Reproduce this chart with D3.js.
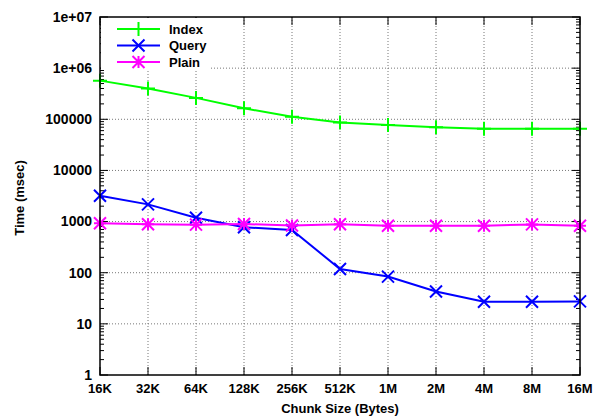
<!DOCTYPE html>
<html>
<head>
<meta charset="utf-8">
<script src="https://cdn.jsdelivr.net/npm/d3@7"></script>
<style>
  body { margin: 0; background: #fff; }
  svg { display: block; }
  text { font-family: "Liberation Sans", Arial, sans-serif; font-weight: bold; font-size: 13px; fill: #000; }
  text.ylab { font-size: 14px; }
</style>
</head>
<body>
<svg id="chart" width="594" height="417"></svg>
<script>
// chunk sizes on the x axis
var chunks = ['16K', '32K', '64K', '128K', '256K', '512K', '1M', '2M', '4M', '8M', '16M'];

// timings in msec
var indexTimes = [570000, 400000, 262000, 164000, 112000, 87000, 77000, 70000, 65000, 65000, 65000];
var queryTimes = [3200, 2170, 1190, 775, 685, 118, 84, 43, 27, 27, 27.5];
var plainTimes = [925, 885, 870, 895, 835, 885, 830, 830, 830, 880, 830];

var yTicks = [1, 10, 100, 1000, 10000, 100000, 1e6, 1e7];
var yTickLabels = ['1', '10', '100', '1000', '10000', '100000', '1e+06', '1e+07'];

var series = [
    {name: 'Index', values: indexTimes, color: '#00ff00', marker: 'plus'},
    {name: 'Query', values: queryTimes, color: '#0000ff', marker: 'cross'},
    {name: 'Plain', values: plainTimes, color: '#ff00ff', marker: 'star'}
];

var svg = d3.select('#chart'),
    margin = {left: 100, right: 14, top: 17, bottom: 42},
    width = 594 - margin.left - margin.right,
    height = 417 - margin.top - margin.bottom;

var x = d3.scalePoint().domain(chunks).range([0, width]);
var y = d3.scaleLog().domain([1, 1e7]).range([height, 0]);

var g = svg.append('g').attr('transform', `translate(${margin.left},${margin.top})`);

// grid lines
var grid = g.append('g').attr('class', 'grid');
grid.selectAll('line.gx')
    .data(chunks.slice(1, -1))
    .enter().append('line')
    .attr('x1', d => x(d)).attr('x2', d => x(d))
    .attr('y1', 0).attr('y2', height);
grid.selectAll('line.gy')
    .data(yTicks.slice(1, -1))
    .enter().append('line')
    .attr('x1', 0).attr('x2', width)
    .attr('y1', d => y(d)).attr('y2', d => y(d));
grid.selectAll('line')
    .attr('stroke', '#777').attr('stroke-width', 1).attr('stroke-dasharray', '1,2');

// minor ticks on log scale (left and right)
var minors = [];
for (var e = 0; e < 7; e++) {
    for (var m = 2; m < 10; m++) minors.push(m * Math.pow(10, e));
}
var ticks = g.append('g').attr('stroke', '#000').attr('stroke-width', 1);
minors.forEach(function (v) {
    ticks.append('line').attr('x1', 0).attr('x2', 4).attr('y1', y(v)).attr('y2', y(v));
    ticks.append('line').attr('x1', width).attr('x2', width - 4).attr('y1', y(v)).attr('y2', y(v));
});
yTicks.forEach(function (v) {
    ticks.append('line').attr('x1', 0).attr('x2', 8).attr('y1', y(v)).attr('y2', y(v));
    ticks.append('line').attr('x1', width).attr('x2', width - 8).attr('y1', y(v)).attr('y2', y(v));
});
chunks.forEach(function (c) {
    ticks.append('line').attr('x1', x(c)).attr('x2', x(c)).attr('y1', height).attr('y2', height - 8);
    ticks.append('line').attr('x1', x(c)).attr('x2', x(c)).attr('y1', 0).attr('y2', 8);
});

// tick labels
g.selectAll('text.ylab')
    .data(yTicks)
    .enter().append('text')
    .attr('class', 'ylab')
    .attr('x', -8)
    .attr('y', d => y(d))
    .attr('dy', '0.35em')
    .attr('text-anchor', 'end')
    .text((d, i) => yTickLabels[i]);

g.selectAll('text.xlab')
    .data(chunks)
    .enter().append('text')
    .attr('x', d => x(d))
    .attr('y', height + 18)
    .attr('text-anchor', 'middle')
    .text(d => d);

// axis titles
svg.append('text')
    .attr('x', margin.left + width / 2)
    .attr('y', 413)
    .attr('text-anchor', 'middle')
    .text('Chunk Size (Bytes)');
svg.append('text')
    .attr('transform', `translate(24,${margin.top + height / 2 + 2}) rotate(-90)`)
    .attr('text-anchor', 'middle')
    .text('Time (msec)');

// marker shapes
function markerPath(type, s) {
    if (type == 'plus') return `M${-s},0H${s}M0,${-s}V${s}`;
    if (type == 'cross') return `M${-s},${-s}L${s},${s}M${-s},${s}L${s},${-s}`;
    return `M${-s},0H${s}M0,${-s}V${s}M${-s},${-s}L${s},${s}M${-s},${s}L${s},${-s}`;
}

// legend background
g.append('rect')
    .attr('x', 1).attr('y', 1)
    .attr('width', 110).attr('height', 52)
    .attr('fill', '#fff');

var line = d3.line()
    .x((d, i) => x(chunks[i]))
    .y(d => y(d));

series.forEach(function (s) {
    g.append('path')
        .attr('d', line(s.values))
        .attr('fill', 'none')
        .attr('stroke', s.color)
        .attr('stroke-width', 2);
    g.selectAll(null)
        .data(s.values)
        .enter().append('path')
        .attr('transform', (d, i) => `translate(${x(chunks[i])},${y(d)})`)
        .attr('d', markerPath(s.marker, s.marker == 'plus' ? 7 : 6))
        .attr('stroke', s.color)
        .attr('stroke-width', 2)
        .attr('fill', 'none');
});

// legend
var legend = g.append('g').attr('transform', 'translate(17,12)');
series.forEach(function (s, i) {
    var ly = i * 16.5;
    legend.append('line')
        .attr('x1', 0).attr('x2', 43)
        .attr('y1', ly).attr('y2', ly)
        .attr('stroke', s.color).attr('stroke-width', 2);
    legend.append('path')
        .attr('transform', `translate(21.5,${ly})`)
        .attr('d', markerPath(s.marker, s.marker == 'plus' ? 7 : 6))
        .attr('stroke', s.color).attr('stroke-width', 2).attr('fill', 'none');
    legend.append('text')
        .attr('x', 52).attr('y', ly)
        .attr('dy', '0.35em')
        .text(s.name);
});

// frame
g.append('rect')
    .attr('width', width).attr('height', height)
    .attr('fill', 'none').attr('stroke', '#000').attr('stroke-width', 1.5);
</script>
</body>
</html>
